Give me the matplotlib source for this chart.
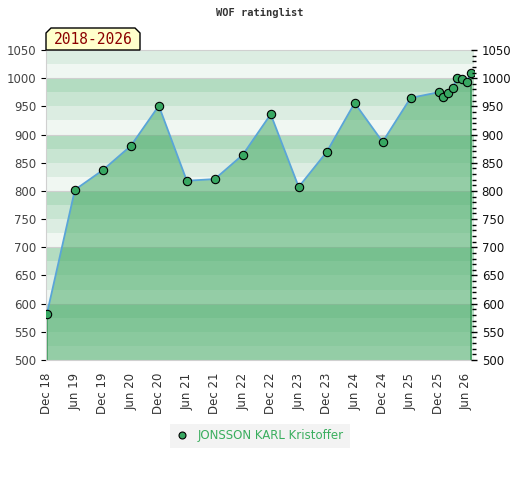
import matplotlib.pyplot as plt
from matplotlib.patches import Polygon
from matplotlib.ticker import MultipleLocator

# rating history (month, rating)
months = ['2018-12', '2019-06', '2019-12', '2020-06', '2020-12', '2021-06',
          '2021-12', '2022-06', '2022-12', '2023-06', '2023-12', '2024-06',
          '2024-12', '2025-06', '2025-12', '2026-01', '2026-02', '2026-03',
          '2026-04', '2026-05', '2026-06', '2026-07']
ratings = [582, 802, 837, 880, 951, 818, 821, 864, 936, 807, 869, 956,
           887, 965, 975, 967, 973, 982, 1000, 998, 993, 1009]

tick_labels = ['Dec 18', 'Jun 19', 'Dec 19', 'Jun 20', 'Dec 20', 'Jun 21',
               'Dec 21', 'Jun 22', 'Dec 22', 'Jun 23', 'Dec 23', 'Jun 24',
               'Dec 24', 'Jun 25', 'Dec 25', 'Jun 26']
player = 'JONSSON KARL Kristoffer'
period = '2018-2026'


def month_index(s):
    y, m = s.split('-')
    return (int(y) - 2018) * 12 + int(m) - 12


x = [month_index(m) for m in months]
ticks = [6 * i for i in range(len(tick_labels))]

fig = plt.figure(figsize=(5.2, 4.8), dpi=100)
ax = fig.add_axes([46 / 520, 1 - 360 / 480, 428 / 520, 310 / 480])

ymin, ymax = 500, 1050
band_colors = ['#f0f7f2', '#dcede2', '#c8e5d2', '#b3dcc1']
for i, lo in enumerate(range(ymin, ymax, 25)):
    ax.axhspan(lo, lo + 25, color=band_colors[i % 4], lw=0, zorder=0)
for v in range(600, ymax, 100):
    ax.axhline(v, color='#cfcfcf', lw=0.8, zorder=0.5)

ax.fill_between(x, ratings, ymin, facecolor=(0.25, 0.66, 0.38, 0.52),
                edgecolor='none', zorder=1)
ax.vlines([x[0], x[-1]], ymin, [ratings[0], ratings[-1]],
          color='#3a9a5a', lw=1.2, zorder=1.5)
ax.plot(x, ratings, color='#5aa5d8', lw=1.3, marker='o', ms=6,
        mfc='#38a862', mec='black', mew=0.8, zorder=3, label=player)

ax.set_xlim(-0.2, 91.6)
ax.set_ylim(ymin, ymax)
ax.set_xticks(ticks)
ax.set_xticklabels(tick_labels, rotation=90, fontsize=8.5, color='#333333')
ax.tick_params(axis='x', length=0, pad=9)
ax.yaxis.set_major_locator(MultipleLocator(50))
ax.tick_params(axis='y', which='both', left=False, labelsize=8.5,
               labelcolor='#444444')

for side in ['left', 'top', 'bottom']:
    ax.spines[side].set_color('#d0d0d0')
ax.spines['right'].set_visible(False)

ax2 = ax.twinx()
ax2.set_ylim(ymin, ymax)
ax2.yaxis.set_major_locator(MultipleLocator(50))
ax2.yaxis.set_minor_locator(MultipleLocator(10))
ax2.tick_params(axis='y', which='major', direction='inout', length=5,
                width=1, labelsize=8.5, labelcolor='#111111', pad=3)
ax2.tick_params(axis='y', which='minor', direction='inout', length=3,
                width=1)
for s in ax2.spines.values():
    s.set_visible(False)

fig.text(0.5, 1 - 13 / 480, 'WOF ratinglist', ha='center', va='center',
         family='DejaVu Sans Mono', fontweight='bold', fontsize=7.5,
         color='#333333')

# badge with clipped top corners
l, r, t, b, c = 46 / 520, 140 / 520, 1 - 28 / 480, 1 - 50 / 480, 5
cx, cy = c / 520, c / 480
badge = Polygon([(l, b), (l, t - cy), (l + cx, t), (r - cx, t), (r, t - cy),
                 (r, b)], closed=True, transform=fig.transFigure,
                facecolor='#ffffcc', edgecolor='black', lw=1)
fig.patches.append(badge)
fig.text((l + r) / 2, 1 - 40 / 480, period, ha='center', va='center',
         family='DejaVu Sans Mono', fontsize=10.5, color='#8b0000')

leg = fig.legend(loc='center', bbox_to_anchor=(260 / 520, 1 - 436 / 480),
                 frameon=True, fancybox=False, fontsize=8.5,
                 handlelength=1, handletextpad=0.8, borderpad=0.5,
                 labelcolor='#3aae5e')
leg.get_frame().set_facecolor('#f0f0f0')
leg.get_frame().set_edgecolor('none')
for h in leg.legend_handles:
    h.set_linestyle('none')
    h.set_markersize(5)

fig.savefig('out.png', dpi=100)
